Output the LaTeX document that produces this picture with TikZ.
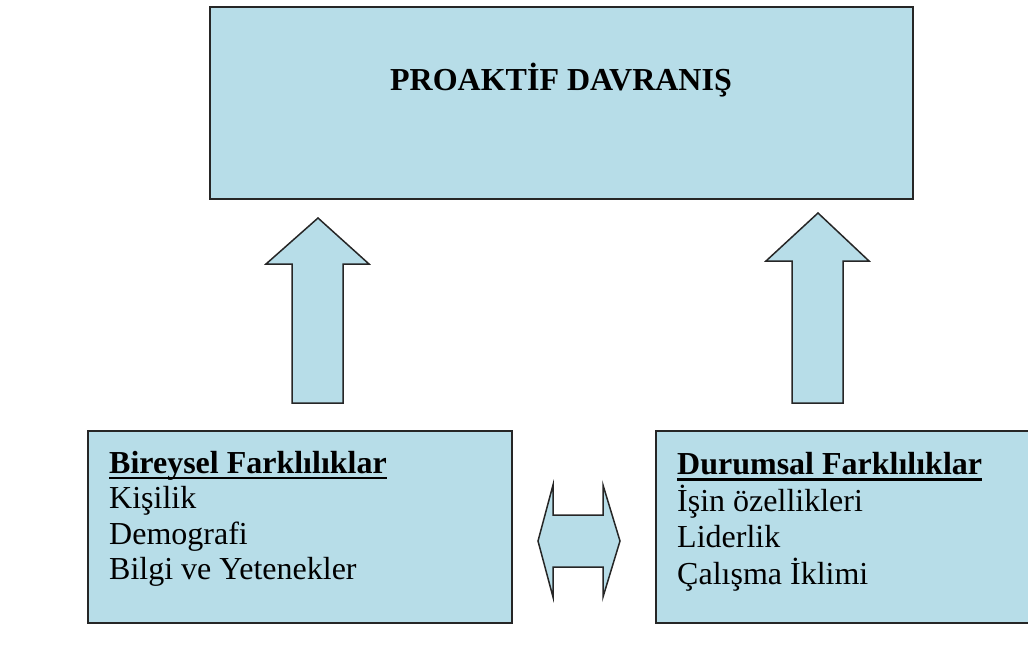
\documentclass[tikz,border=0pt]{standalone}
\usepackage{fontspec}
\setmainfont{Liberation Serif}
\definecolor{kutumavi}{HTML}{B7DDE8}
\definecolor{kenar}{HTML}{262626}
\newcommand{\altciz}[1]{\setbox0\hbox{#1}\rlap{\rule[-6pt]{\wd0}{2.6pt}}\box0}

\begin{document}
\begin{tikzpicture}[x=1pt,y=-1pt,
        kutu/.style={draw=kenar, line width=1.8pt, fill=kutumavi, rectangle, inner sep=0pt},
        okkutu/.style={draw=kenar, line width=1.5pt, fill=kutumavi, line join=miter},
        yazi/.style={inner sep=0pt, font=\fontsize{32}{35.5}\selectfont}]

        \useasboundingbox (0,0) rectangle (1028,657);

        % ana kutu
        \node[kutu, minimum width=703, minimum height=192] (proaktif) at (561.5,103) {};
        \node[yazi, anchor=base] (baslik) at (561,90) {\bfseries PROAKTİF DAVRANIŞ};

        % alt kutular
        \node[kutu, minimum width=424, minimum height=192] (bireysel) at (300,527) {};
        \node[yazi, anchor=north west] (bireyselyazi) at (109,448.2)
        {
            \begin{tabular}{@{}l@{}}
                \altciz{\bfseries Bireysel Farklılıklar} \\
                Kişilik \\
                Demografi \\
                Bilgi ve Yetenekler \\
            \end{tabular}};
        \node[kutu, minimum width=384, minimum height=192] (durumsal) at (848,527) {};
        \node[yazi, anchor=north west] (durumsalyazi) at (677,449.5)
        {
            \begin{tabular}{@{}l@{}}
                \altciz{\bfseries Durumsal Farklılıklar} \\
                İşin özellikleri \\
                Liderlik \\
                Çalışma İklimi \\
            \end{tabular}};

        % oklar
        \draw[okkutu] (292,403) -- (292,264) -- (266,264) -- (318,218)
            -- (369,264) -- (343,264) -- (343,403) -- cycle;
        \draw[okkutu] (792,403) -- (792,261) -- (766,261) -- (818,213)
            -- (869,261) -- (843,261) -- (843,403) -- cycle;
        \draw[okkutu] (538,541) -- (553,485) -- (553,515) -- (603,515) -- (603,485)
            -- (620,541) -- (603,597) -- (603,567) -- (553,567) -- (553,597) -- cycle;
    \end{tikzpicture}
\end{document}
